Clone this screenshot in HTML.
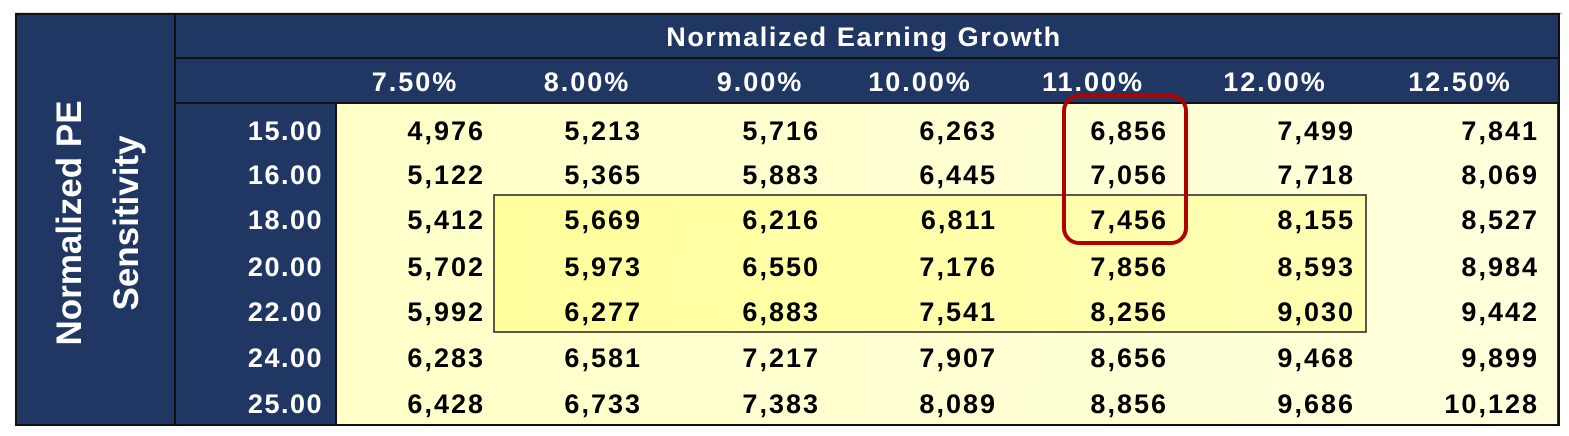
<!DOCTYPE html>
<html><head><meta charset="utf-8"><style>
html,body{margin:0;padding:0;background:#fff;}
svg{display:block;}
text{font-family:"Liberation Sans",sans-serif;font-weight:bold;}
</style></head><body>
<svg width="1569" height="436" viewBox="0 0 1569 436" xmlns="http://www.w3.org/2000/svg">
<defs>
<linearGradient id="g1" x1="0" y1="0" x2="1" y2="0"><stop offset="0" stop-color="#FFFFC8"/><stop offset="1" stop-color="#FFFFDC"/></linearGradient>
<linearGradient id="g2" x1="0" y1="0" x2="1" y2="0"><stop offset="0" stop-color="#FFFF9E"/><stop offset="1" stop-color="#FFFFB4"/></linearGradient>
</defs>
<rect x="15" y="12" width="1547" height="3" fill="#d9d9d9"/>
<rect x="16" y="14" width="1544" height="411" fill="#213763"/>
<rect x="336" y="103" width="1221" height="321" fill="url(#g1)"/>
<rect x="494" y="195" width="872" height="137" fill="url(#g2)" stroke="#222" stroke-width="1.5"/>
<g stroke="#111" stroke-width="2" fill="none">
<line x1="175" y1="14" x2="175" y2="425"/>
<line x1="175" y1="58" x2="1560" y2="58"/>
<line x1="175" y1="103" x2="1560" y2="103"/>
<line x1="336" y1="103" x2="336" y2="425"/>
<rect x="16" y="14" width="1543" height="411"/>
</g>
<text x="864" y="46" fill="#fff" font-size="27" letter-spacing="1.6" text-anchor="middle">Normalized Earning Growth</text>
<g fill="#fff" font-size="27" letter-spacing="2" text-anchor="middle">
<text x="415" y="91">7.50%</text><text x="587" y="91">8.00%</text><text x="760" y="91">9.00%</text><text x="920" y="91">10.00%</text><text x="1093" y="91">11.00%</text><text x="1275" y="91">12.00%</text><text x="1460" y="91">12.50%</text>
</g>
<g fill="#fff" font-size="35" text-anchor="middle">
<text transform="translate(81,223) rotate(-90)">Normalized PE</text>
<text transform="translate(138,223) rotate(-90)">Sensitivity</text>
</g>
<g fill="#fff" font-size="27" letter-spacing="1.5" text-anchor="end">
<text x="323" y="140">15.00</text><text x="323" y="184">16.00</text><text x="323" y="229">18.00</text><text x="323" y="276">20.00</text><text x="323" y="321">22.00</text><text x="323" y="367">24.00</text><text x="323" y="413">25.00</text>
</g>
<g fill="#000" font-size="27" letter-spacing="2" text-anchor="end">
<text y="140"><tspan x="485">4,976</tspan><tspan x="642">5,213</tspan><tspan x="820">5,716</tspan><tspan x="997">6,263</tspan><tspan x="1168">6,856</tspan><tspan x="1355">7,499</tspan><tspan x="1539">7,841</tspan></text>
<text y="184"><tspan x="485">5,122</tspan><tspan x="642">5,365</tspan><tspan x="820">5,883</tspan><tspan x="997">6,445</tspan><tspan x="1168">7,056</tspan><tspan x="1355">7,718</tspan><tspan x="1539">8,069</tspan></text>
<text y="229"><tspan x="485">5,412</tspan><tspan x="642">5,669</tspan><tspan x="820">6,216</tspan><tspan x="997">6,811</tspan><tspan x="1168">7,456</tspan><tspan x="1355">8,155</tspan><tspan x="1539">8,527</tspan></text>
<text y="276"><tspan x="485">5,702</tspan><tspan x="642">5,973</tspan><tspan x="820">6,550</tspan><tspan x="997">7,176</tspan><tspan x="1168">7,856</tspan><tspan x="1355">8,593</tspan><tspan x="1539">8,984</tspan></text>
<text y="321"><tspan x="485">5,992</tspan><tspan x="642">6,277</tspan><tspan x="820">6,883</tspan><tspan x="997">7,541</tspan><tspan x="1168">8,256</tspan><tspan x="1355">9,030</tspan><tspan x="1539">9,442</tspan></text>
<text y="367"><tspan x="485">6,283</tspan><tspan x="642">6,581</tspan><tspan x="820">7,217</tspan><tspan x="997">7,907</tspan><tspan x="1168">8,656</tspan><tspan x="1355">9,468</tspan><tspan x="1539">9,899</tspan></text>
<text y="413"><tspan x="485">6,428</tspan><tspan x="642">6,733</tspan><tspan x="820">7,383</tspan><tspan x="997">8,089</tspan><tspan x="1168">8,856</tspan><tspan x="1355">9,686</tspan><tspan x="1539">10,128</tspan></text>
</g>
<rect x="1064" y="96" width="122" height="147" rx="15" ry="15" fill="none" stroke="#B00000" stroke-width="4"/>
</svg>
</body></html>
